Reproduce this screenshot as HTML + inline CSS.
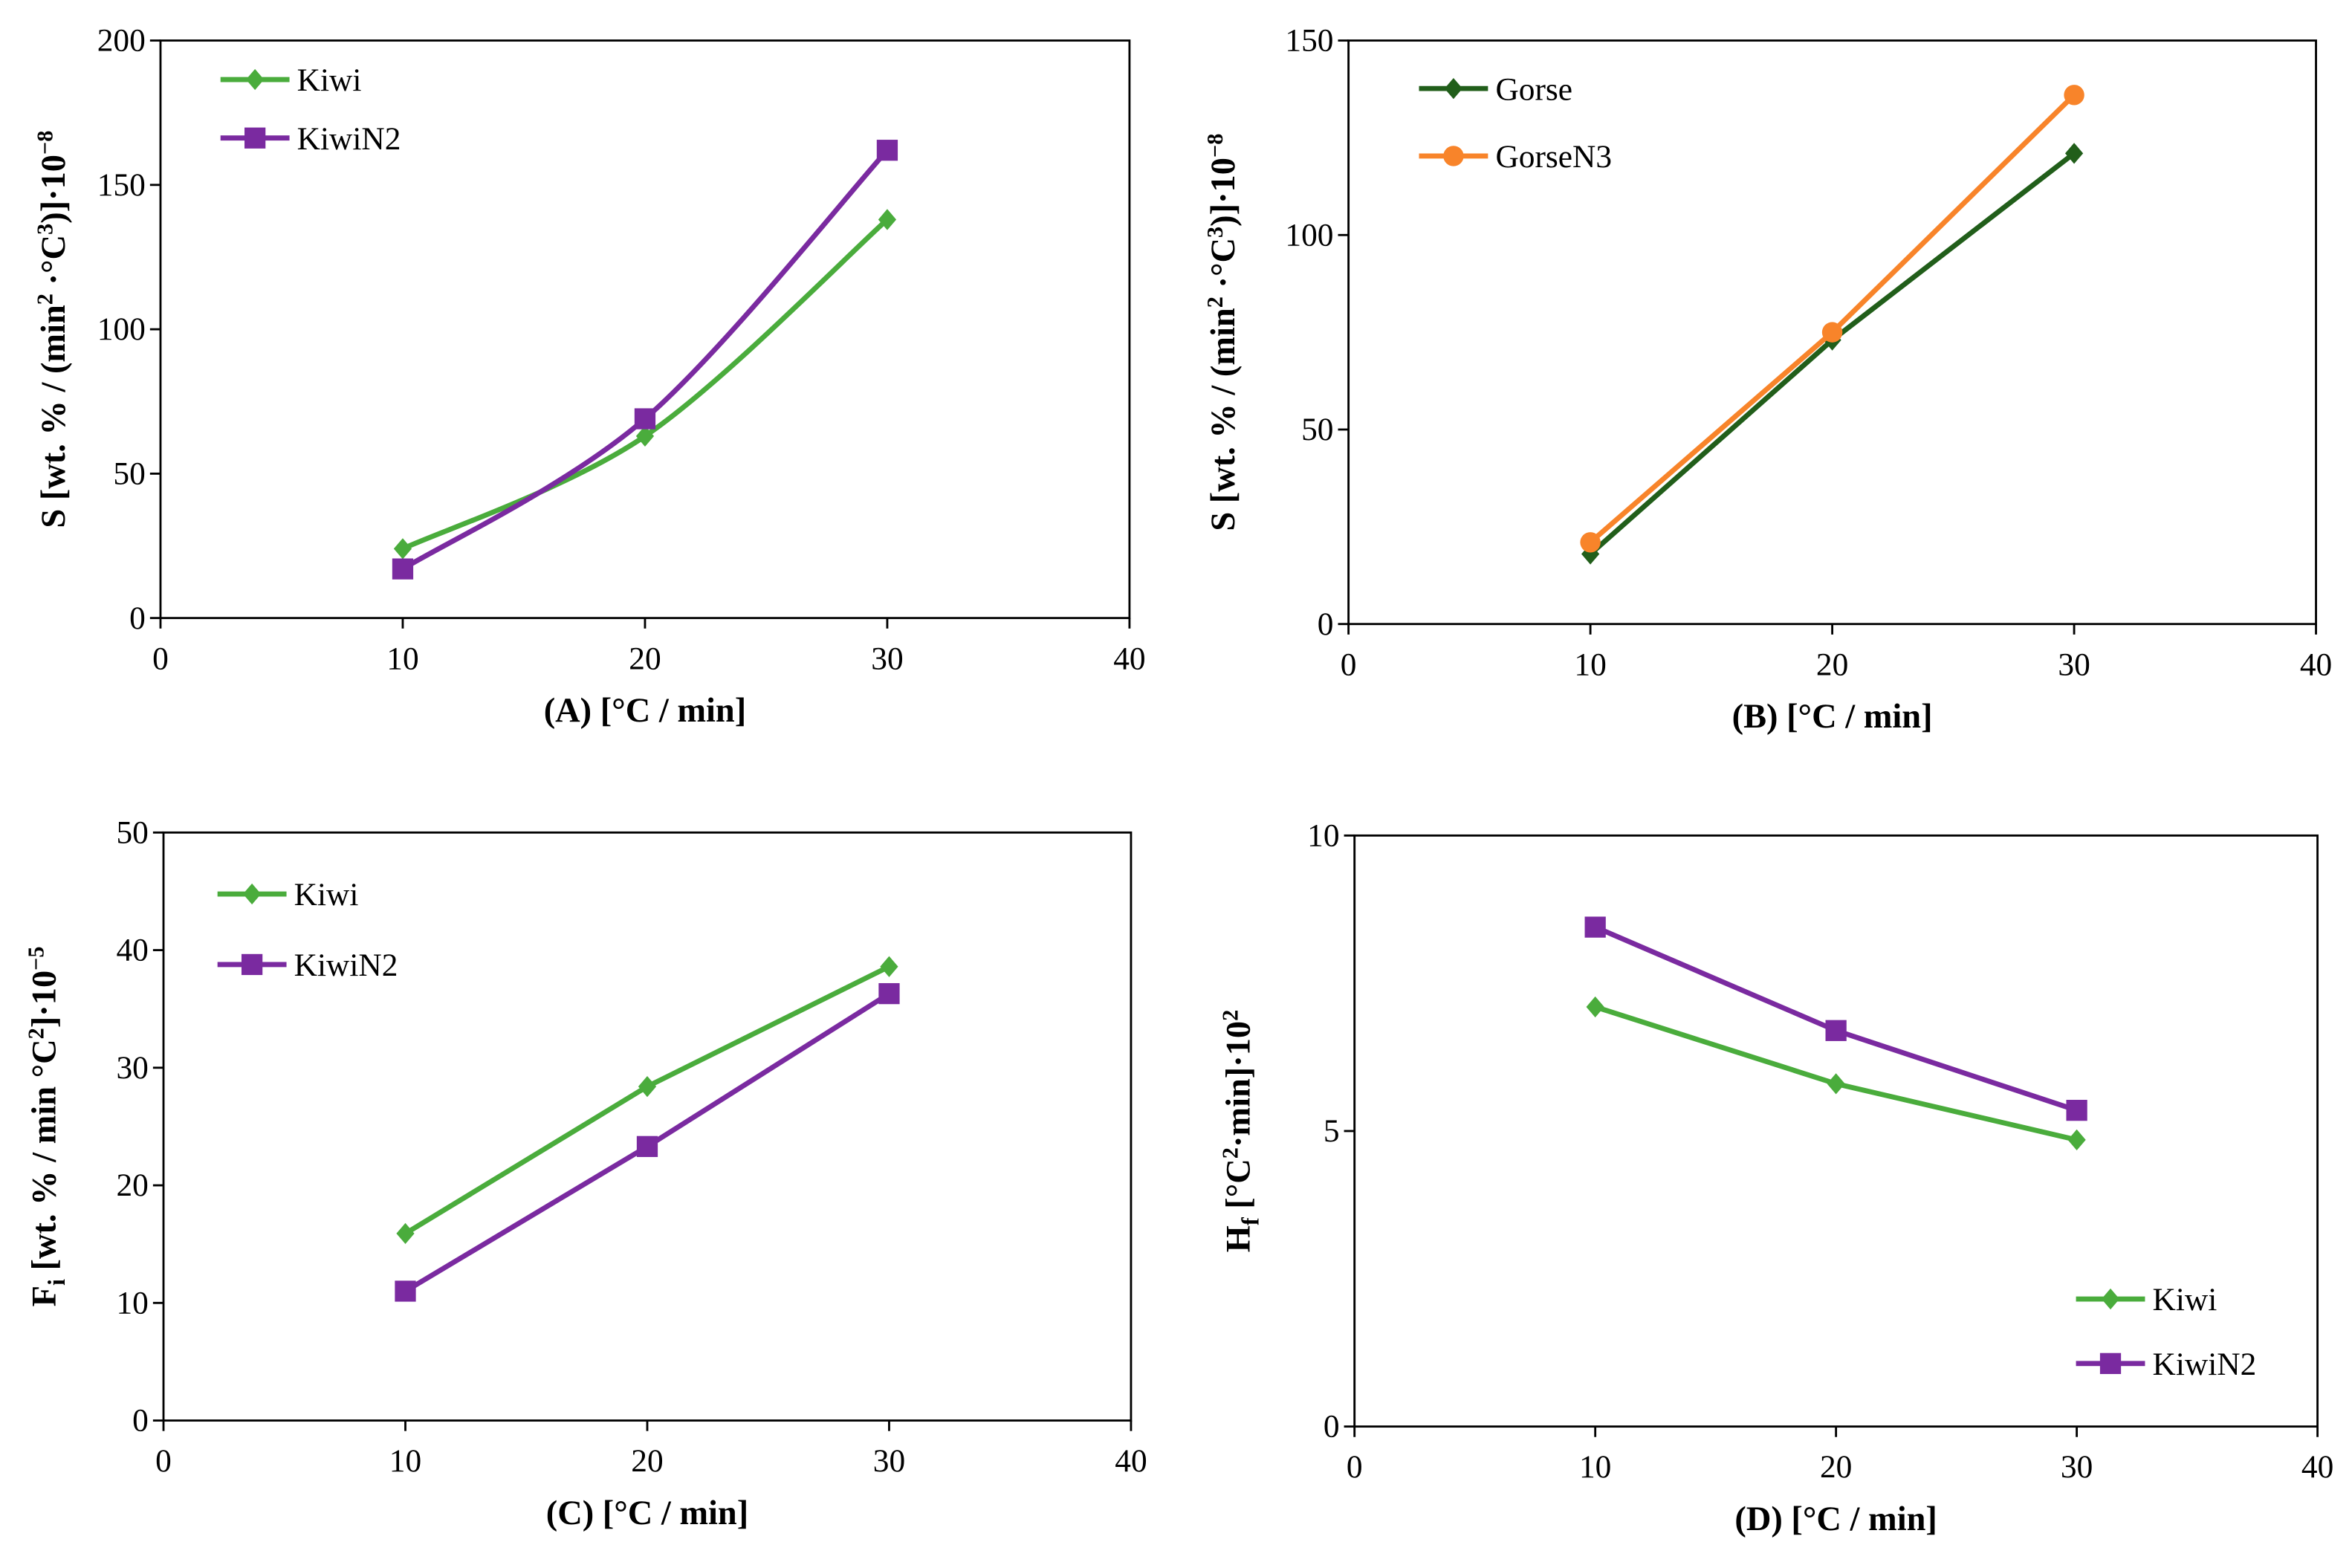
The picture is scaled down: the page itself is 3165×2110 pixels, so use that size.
<!DOCTYPE html>
<html><head><meta charset="utf-8"><style>
html,body{margin:0;padding:0;background:#fff;}
svg{display:block;}
svg text{font-family:"Liberation Serif","Times New Roman",serif;fill:#000;}
</style></head><body>
<svg id="fig" width="3165" height="2110" viewBox="0 0 1568 1045.3" xmlns="http://www.w3.org/2000/svg" font-family="Liberation Serif, serif"></svg>
<script>
const xCategories = [10, 20, 30];
const xTicks = [0, 10, 20, 30, 40];
const aKiwi = [24, 63, 138];
const aKiwiN2 = [17, 69, 162];
const bGorse = [18, 73, 121];
const bGorseN3 = [21, 75, 136];
const cKiwi = [15.9, 28.4, 38.6];
const cKiwiN2 = [11, 23.3, 36.3];
const dKiwi = [7.1, 5.8, 4.85];
const dKiwiN2 = [8.45, 6.7, 5.35];
const aTicks = [0, 50, 100, 150, 200];
const bTicks = [0, 50, 100, 150];
const cTicks = [0, 10, 20, 30, 40, 50];
const dTicks = [0, 5, 10];

const NS = "http://www.w3.org/2000/svg";
const svg = document.getElementById('fig');
const GREEN = '#4aac3c', PURPLE = '#7a2aa0', DGREEN = '#215e1a', ORANGE = '#f8842a';
const FONT = '"Liberation Serif", serif';

function mk(tag, attrs, parent) {
  const e = document.createElementNS(NS, tag);
  for (const k in attrs) e.setAttribute(k, attrs[k]);
  if (tag === 'text') e.setAttribute('font-family', FONT);
  (parent || svg).appendChild(e);
  return e;
}
function marker(g, shape, x, y, color) {
  let m;
  if (shape === 'diamond') m = mk('polygon', {points: `${x},${y-7} ${x+6},${y} ${x},${y+7} ${x-6},${y}`, fill: color}, g);
  else if (shape === 'square') m = mk('rect', {x: x-7, y: y-7, width: 14, height: 14, fill: color}, g);
  else m = mk('circle', {cx: x, cy: y, r: 6.8, fill: color}, g);
  return m;
}
function smoothPath(pts) {
  let d = `M${pts[0][0]},${pts[0][1]}`;
  for (let i = 0; i < pts.length - 1; i++) {
    const p0 = pts[i-1] || pts[i], p1 = pts[i], p2 = pts[i+1], p3 = pts[i+2] || p2;
    const t = 0.16;
    const c1 = [p1[0] + (p2[0]-p0[0])*t, p1[1] + (p2[1]-p0[1])*t];
    const c2 = [p2[0] - (p3[0]-p1[0])*t, p2[1] - (p3[1]-p1[1])*t];
    d += ` C${c1[0]},${c1[1]} ${c2[0]},${c2[1]} ${p2[0]},${p2[1]}`;
  }
  return d;
}

function panel(cfg) {
  const g = mk('g', {});
  
  
  const {L, R, T, B, ymax} = cfg;
  const sx = v => L + (v / 40) * (R - L);
  const sy = v => B - (v / ymax) * (B - T);
  const frame = mk('rect', {x: L, y: T, width: R-L, height: B-T, fill: 'none', stroke: '#000', 'stroke-width': 1.4}, g);
  
  
  xTicks.forEach(v => {
    mk('line', {x1: sx(v), x2: sx(v), y1: B, y2: B+7, stroke: '#000', 'stroke-width': 1.4}, g);
    const t = mk('text', {x: sx(v), y: B + 34, 'font-size': 21.5, 'text-anchor': 'middle'}, g);
    t.textContent = v;
    
    
  });
  cfg.ticks.forEach(v => {
    mk('line', {x1: L-7, x2: L, y1: sy(v), y2: sy(v), stroke: '#000', 'stroke-width': 1.4}, g);
    const t = mk('text', {x: L - 10, y: sy(v) + 7, 'font-size': 21.5, 'text-anchor': 'end'}, g);
    t.textContent = v;
    
    
  });
  const xt = mk('text', {x: (L+R)/2, y: B + 69, 'font-size': 23, 'font-weight': 'bold', 'text-anchor': 'middle'}, g);
  xt.textContent = cfg.xtitle;
  
  
  const yt = mk('text', {x: 0, y: 0, 'font-size': 23, 'font-weight': 'bold', 'text-anchor': 'middle', transform: `translate(${cfg.ytx},${(T+B)/2}) rotate(-90)`}, g);
  yt.innerHTML = cfg.ytitle;
  
  

  cfg.series.forEach((s, i) => {
    const sg = mk('g', {}, g);
    
    
    const pts = xCategories.map((x, j) => [sx(x), sy(s.data[j])]);
    const d = cfg.smooth ? smoothPath(pts) : 'M' + pts.map(p => p.join(',')).join(' L');
    const ln = mk('path', {d, fill: 'none', stroke: s.color, 'stroke-width': 3.4, 'stroke-linejoin': 'round'}, sg);
    
    
    pts.forEach(p => {
      const m = marker(sg, s.shape, p[0], p[1], s.color);
      
      
    });
    const ly = cfg.legY[i], lx = cfg.legX;
    const lg = mk('g', {}, g);
    
    
    mk('line', {x1: lx, x2: lx+46, y1: ly, y2: ly, stroke: s.color, 'stroke-width': 3.4}, lg);
    marker(lg, s.shape, lx+23, ly, s.color);
    const lt = mk('text', {x: lx + 51, y: ly + 7.5, 'font-size': 21.5}, lg);
    lt.textContent = s.label;
  });
}

panel({name: 'panel-a', L: 107, R: 753, T: 27, B: 412, ymax: 200, ticks: aTicks, smooth: true,
  xtitle: '(A) [°C / min]', ytx: 43,
  ytitle: 'S [wt. % / (min<tspan dy="-8" font-size="15">2</tspan><tspan dy="8"> ·°C</tspan><tspan dy="-8" font-size="15">3</tspan><tspan dy="8">)]·10</tspan><tspan dy="-8" font-size="15">−8</tspan>',
  legX: 147, legY: [53, 92],
  series: [{label: 'Kiwi', data: aKiwi, color: GREEN, shape: 'diamond'}, {label: 'KiwiN2', data: aKiwiN2, color: PURPLE, shape: 'square'}]});
panel({name: 'panel-b', L: 899, R: 1544, T: 27, B: 416, ymax: 150, ticks: bTicks, smooth: false,
  xtitle: '(B) [°C / min]', ytx: 823,
  ytitle: 'S [wt. % / (min<tspan dy="-8" font-size="15">2</tspan><tspan dy="8"> ·°C</tspan><tspan dy="-8" font-size="15">3</tspan><tspan dy="8">)]·10</tspan><tspan dy="-8" font-size="15">−8</tspan>',
  legX: 946, legY: [59, 104],
  series: [{label: 'Gorse', data: bGorse, color: DGREEN, shape: 'diamond'}, {label: 'GorseN3', data: bGorseN3, color: ORANGE, shape: 'circle'}]});
panel({name: 'panel-c', L: 109, R: 754, T: 555, B: 947, ymax: 50, ticks: cTicks, smooth: false,
  xtitle: '(C) [°C / min]', ytx: 37,
  ytitle: 'F<tspan dy="6" font-size="16">i</tspan><tspan dy="-6"> [wt. % / min °C</tspan><tspan dy="-8" font-size="15">2</tspan><tspan dy="8">]·10</tspan><tspan dy="-8" font-size="15">−5</tspan>',
  legX: 145, legY: [596, 643],
  series: [{label: 'Kiwi', data: cKiwi, color: GREEN, shape: 'diamond'}, {label: 'KiwiN2', data: cKiwiN2, color: PURPLE, shape: 'square'}]});
panel({name: 'panel-d', L: 903, R: 1545, T: 557, B: 951, ymax: 10, ticks: dTicks, smooth: false,
  xtitle: '(D) [°C / min]', ytx: 833,
  ytitle: 'H<tspan dy="6" font-size="16">f</tspan><tspan dy="-6"> [°C</tspan><tspan dy="-8" font-size="15">2</tspan><tspan dy="8">·min]·10</tspan><tspan dy="-8" font-size="15">2</tspan>',
  legX: 1384, legY: [866, 909],
  series: [{label: 'Kiwi', data: dKiwi, color: GREEN, shape: 'diamond'}, {label: 'KiwiN2', data: dKiwiN2, color: PURPLE, shape: 'square'}]});
</script>
</body></html>
